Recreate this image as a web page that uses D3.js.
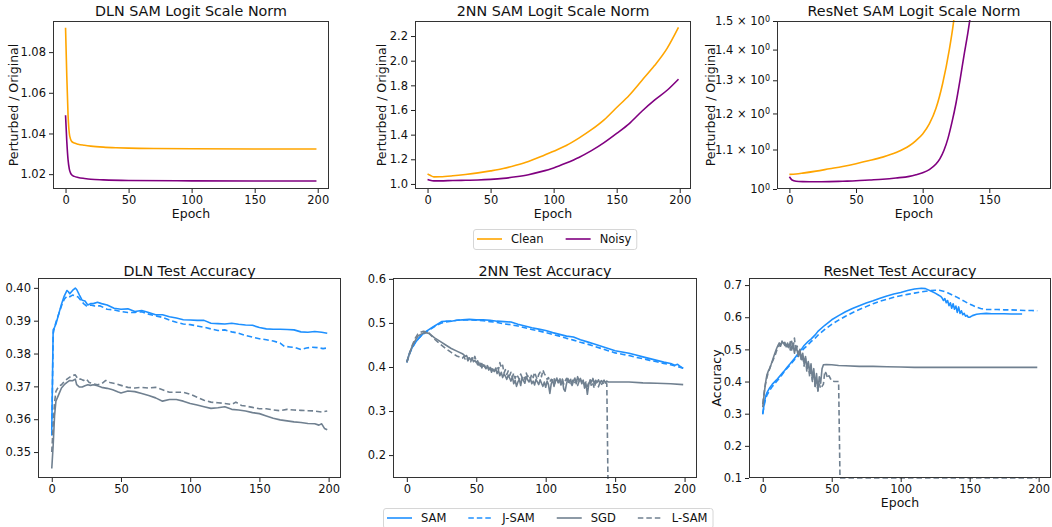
<!DOCTYPE html>
<html>
<head>
<meta charset="utf-8">
<script src="https://cdn.jsdelivr.net/npm/d3@7"></script>
<style>
  html, body { margin: 0; padding: 0; background: #fff; }
  svg { display: block; font-family: "DejaVu Sans", sans-serif; }
</style>
</head>
<body>
<svg id="chart" width="1052" height="527"></svg>
<script>
// ---- Ticks ----
const epochTicks = [0, 50, 100, 150, 200];
const epochTicksRes = [0, 50, 100, 150];
const dlnNormTicks = [1.02, 1.04, 1.06, 1.08];
const nnNormTicks = [1.0, 1.2, 1.4, 1.6, 1.8, 2.0, 2.2];
const resNormTicks = [1.0, 1.1, 1.2, 1.3, 1.4, 1.5];
const dlnAccTicks = [0.35, 0.36, 0.37, 0.38, 0.39, 0.40];
const nnAccTicks = [0.2, 0.3, 0.4, 0.5, 0.6];
const resAccTicks = [0.1, 0.2, 0.3, 0.4, 0.5, 0.6, 0.7];

// ---- Logit scale norm (perturbed / original), [epoch, value] ----
const dlnNormClean = [[0,1.092],[1,1.068],[2,1.049],[3,1.040],[4,1.0372],[5,1.0360],[7,1.0353],[10,1.0347],[15,1.0342],[20,1.0338],[30,1.0333],[40,1.0330],[50,1.0328],[70,1.0326],[100,1.0325],[150,1.0324],[199,1.0324]];
const dlnNormNoisy = [[0,1.049],[1,1.036],[2,1.027],[3,1.0225],[4,1.0205],[5,1.0196],[7,1.0189],[10,1.0184],[15,1.0179],[20,1.0175],[30,1.0172],[50,1.0169],[100,1.0167],[150,1.0166],[199,1.0166]];

const nnNormClean = [[0,1.080],[2,1.070],[5,1.057],[10,1.058],[20,1.066],[30,1.077],[40,1.090],[50,1.106],[60,1.125],[70,1.152],[80,1.183],[90,1.222],[100,1.266],[110,1.312],[120,1.372],[130,1.440],[140,1.520],[150,1.620],[160,1.720],[170,1.840],[180,1.960],[190,2.100],[199,2.270]];
const nnNormNoisy = [[0,1.037],[2,1.030],[5,1.025],[10,1.025],[20,1.028],[30,1.030],[40,1.032],[50,1.037],[60,1.045],[70,1.058],[80,1.075],[90,1.100],[100,1.130],[110,1.170],[120,1.215],[130,1.270],[140,1.335],[150,1.410],[160,1.490],[170,1.590],[180,1.680],[190,1.760],[199,1.850]];

const resNormClean = [[0,1.036],[5,1.037],[10,1.039],[20,1.044],[30,1.050],[40,1.056],[50,1.063],[60,1.071],[70,1.080],[80,1.092],[90,1.110],[95,1.124],[100,1.142],[105,1.170],[110,1.215],[115,1.290],[120,1.400],[123,1.490],[126,1.620]];
const resNormNoisy = [[0,1.030],[2,1.022],[5,1.019],[10,1.018],[20,1.0175],[30,1.018],[40,1.019],[50,1.020],[60,1.022],[70,1.024],[80,1.027],[90,1.031],[95,1.035],[100,1.040],[105,1.048],[110,1.062],[113,1.076],[116,1.098],[119,1.130],[122,1.175],[125,1.230],[128,1.300],[131,1.380],[134,1.460],[137,1.560]];

// ---- Test accuracy, [epoch, value] ----
const dlnSam = [[0,0.3567],[1,0.3872],[2,0.388],[3,0.389],[5,0.392],[7,0.395],[9,0.3975],[11,0.3992],[12,0.3988],[13,0.3982],[15,0.3992],[17,0.3999],[18,0.3995],[20,0.3978],[22,0.3962],[24,0.396],[26,0.3948],[28,0.3952],[30,0.3952],[33,0.3956],[36,0.3952],[40,0.3948],[45,0.3938],[50,0.3935],[55,0.3936],[60,0.3928],[65,0.3931],[70,0.3925],[75,0.3918],[80,0.3918],[85,0.3912],[90,0.3908],[95,0.3903],[100,0.3902],[105,0.3901],[110,0.3901],[115,0.3892],[120,0.3891],[125,0.389],[130,0.3892],[135,0.3889],[140,0.3887],[145,0.3886],[150,0.3879],[155,0.3875],[160,0.3874],[165,0.3874],[170,0.3873],[175,0.3872],[180,0.3866],[185,0.3865],[190,0.3867],[195,0.3865],[199,0.3862]];
const dlnJsam = [[0,0.355],[1,0.386],[2,0.388],[3,0.3895],[5,0.392],[7,0.3945],[9,0.3965],[11,0.3975],[13,0.3973],[15,0.3978],[17,0.3975],[19,0.3972],[21,0.3962],[23,0.3952],[25,0.3945],[28,0.3948],[31,0.3945],[35,0.3945],[40,0.3935],[45,0.3933],[50,0.3928],[55,0.3925],[60,0.3925],[65,0.3927],[70,0.392],[75,0.3915],[80,0.391],[85,0.3902],[90,0.3895],[95,0.389],[100,0.3888],[105,0.3884],[110,0.388],[115,0.3875],[120,0.387],[125,0.3872],[130,0.3866],[135,0.3862],[140,0.3855],[145,0.385],[150,0.3845],[155,0.3842],[160,0.3838],[165,0.3832],[168,0.3822],[172,0.382],[176,0.3818],[180,0.3812],[184,0.3817],[188,0.3819],[192,0.3818],[196,0.3815],[199,0.3817]];
const dlnSgd = [[0,0.345],[1,0.352],[2,0.361],[3,0.3655],[5,0.3675],[7,0.3695],[9,0.3705],[11,0.3712],[13,0.3718],[15,0.3717],[17,0.3722],[18,0.3705],[20,0.3698],[22,0.3698],[24,0.3702],[26,0.3705],[28,0.3703],[30,0.3705],[33,0.3702],[36,0.3697],[40,0.3694],[44,0.369],[48,0.3683],[50,0.368],[55,0.3686],[60,0.3684],[65,0.3678],[70,0.3672],[75,0.3665],[80,0.3655],[85,0.366],[90,0.366],[95,0.3655],[100,0.3648],[105,0.3643],[110,0.3638],[115,0.3633],[120,0.3635],[125,0.3638],[130,0.363],[135,0.3628],[140,0.3625],[145,0.362],[150,0.3617],[155,0.361],[160,0.3603],[165,0.3598],[170,0.3595],[175,0.3592],[180,0.359],[185,0.3587],[190,0.3586],[193,0.3582],[195,0.3586],[197,0.3572],[199,0.3568]];
const dlnLsam = [[0,0.350],[1,0.358],[2,0.365],[3,0.3685],[5,0.370],[7,0.3705],[9,0.3715],[11,0.3722],[13,0.3728],[15,0.3733],[17,0.3735],[19,0.3722],[21,0.3722],[23,0.3718],[25,0.3722],[27,0.3712],[30,0.3708],[33,0.3705],[36,0.3708],[39,0.3718],[42,0.3712],[46,0.3708],[50,0.3703],[55,0.3697],[60,0.3695],[65,0.3697],[70,0.3695],[75,0.3697],[80,0.369],[85,0.3682],[90,0.3682],[95,0.3682],[100,0.3676],[105,0.3667],[110,0.3658],[115,0.3652],[120,0.365],[125,0.3648],[130,0.3645],[133,0.3652],[137,0.3642],[140,0.364],[145,0.3636],[150,0.3632],[155,0.3632],[160,0.3628],[165,0.3626],[170,0.363],[175,0.3628],[180,0.3627],[185,0.3626],[190,0.3625],[195,0.3622],[199,0.3625]];

const nnSam = [[0,0.412],[2,0.432],[4,0.445],[6,0.455],[8,0.463],[10,0.47],[12,0.476],[15,0.483],[18,0.489],[20,0.493],[23,0.499],[25,0.503],[28,0.504],[32,0.504],[36,0.506],[40,0.507],[45,0.508],[50,0.507],[55,0.507],[60,0.506],[65,0.504],[70,0.503],[75,0.502],[80,0.497],[85,0.493],[90,0.489],[95,0.486],[100,0.483],[105,0.478],[110,0.474],[115,0.470],[120,0.468],[125,0.462],[130,0.457],[135,0.452],[140,0.447],[145,0.442],[150,0.437],[155,0.434],[160,0.431],[165,0.427],[170,0.423],[175,0.419],[180,0.415],[185,0.411],[190,0.408],[193,0.404],[195,0.406],[197,0.401],[199,0.397]];
const nnJsam = [[0,0.41],[2,0.43],[4,0.444],[6,0.455],[8,0.463],[10,0.470],[12,0.475],[15,0.482],[18,0.488],[20,0.492],[23,0.497],[25,0.500],[28,0.502],[32,0.504],[36,0.506],[40,0.507],[45,0.507],[50,0.506],[55,0.505],[60,0.503],[65,0.501],[70,0.498],[75,0.496],[80,0.493],[85,0.489],[90,0.485],[95,0.482],[100,0.478],[105,0.474],[110,0.470],[115,0.465],[120,0.461],[125,0.456],[130,0.452],[135,0.447],[140,0.442],[145,0.437],[150,0.432],[155,0.429],[160,0.426],[165,0.422],[170,0.419],[175,0.415],[180,0.412],[185,0.408],[190,0.405],[195,0.401],[199,0.397]];
const nnSgd = [[0,0.412],[2,0.432],[4,0.448],[6,0.46],[8,0.47],[10,0.474],[12,0.477],[14,0.478],[16,0.476],[18,0.471],[20,0.466],[24,0.458],[28,0.45],[32,0.442],[36,0.436],
  [40,0.430],[41,0.428],[42,0.424],[43,0.426],[44,0.419],[45,0.421],[46,0.416],[47,0.420],[48,0.412],[49,0.415],[50,0.410],[51,0.414],[52,0.404],[53,0.408],[54,0.398],[55,0.405],[56,0.401],[57,0.396],[58,0.402],[59,0.393],
  [60,0.399],[61,0.388],[62,0.395],[63,0.390],[64,0.397],[65,0.385],[66,0.392],[67,0.380],[68,0.388],[69,0.376],[70,0.384],[71,0.379],[72,0.372],[73,0.381],[74,0.375],[75,0.368],[76,0.378],[77,0.362],[78,0.370],[79,0.356],
  [80,0.366],[81,0.372],[82,0.358],[83,0.376],[84,0.369],[85,0.363],[86,0.378],[87,0.371],[88,0.366],[89,0.374],[90,0.362],[91,0.368],[92,0.359],[93,0.372],[94,0.366],[95,0.360],[96,0.371],[97,0.363],[98,0.356],[99,0.366],
  [100,0.354],[101,0.368],[102,0.360],[103,0.340],[104,0.362],[105,0.371],[106,0.356],[107,0.368],[108,0.375],[109,0.364],[110,0.370],[111,0.359],[112,0.372],[113,0.350],[114,0.345],[115,0.362],[116,0.374],[117,0.366],[118,0.372],[119,0.358],
  [120,0.368],[121,0.375],[122,0.362],[123,0.378],[124,0.369],[125,0.374],[126,0.365],[127,0.370],[128,0.352],[129,0.362],[130,0.338],[131,0.360],[132,0.371],[133,0.366],[134,0.374],[135,0.362],[136,0.370],[137,0.365],[138,0.371],[139,0.363],
  [140,0.369],[141,0.366],[142,0.370],[143,0.364],[144,0.368],[145,0.366],[150,0.366],[160,0.366],[170,0.364],[180,0.363],[190,0.362],[199,0.360]];
const nnLsam = [[0,0.41],[2,0.43],[4,0.45],[6,0.465],[8,0.475],[10,0.479],[12,0.481],[14,0.48],[16,0.477],[18,0.47],[20,0.463],[24,0.452],[28,0.442],[32,0.433],[36,0.425],
  [40,0.420],[41,0.424],[42,0.418],[43,0.422],[44,0.414],[45,0.419],[46,0.412],[47,0.421],[48,0.416],[49,0.424],[50,0.413],[51,0.405],[52,0.410],[53,0.402],[54,0.408],[55,0.399],[56,0.404],[57,0.396],[58,0.403],[59,0.395],
  [60,0.401],[61,0.392],[62,0.398],[63,0.390],[64,0.396],[65,0.402],[66,0.394],[67,0.410],[68,0.398],[69,0.404],[70,0.386],[71,0.394],[72,0.383],[73,0.391],[74,0.380],[75,0.388],[76,0.377],[77,0.386],[78,0.374],[79,0.383],
  [80,0.378],[81,0.372],[82,0.384],[83,0.376],[84,0.380],[85,0.372],[86,0.386],[87,0.378],[88,0.382],[89,0.374],[90,0.384],[91,0.376],[92,0.388],[93,0.379],[94,0.372],[95,0.383],[96,0.388],[97,0.378],[98,0.393],[99,0.385],
  [100,0.380],[101,0.372],[102,0.376],[103,0.366],[104,0.372],[105,0.368],[106,0.375],[107,0.362],[108,0.370],[109,0.366],[110,0.376],[111,0.364],[112,0.372],[113,0.361],[114,0.368],[115,0.374],[116,0.363],[117,0.369],[118,0.358],[119,0.366],
  [120,0.372],[121,0.365],[122,0.370],[123,0.358],[124,0.367],[125,0.373],[126,0.362],[127,0.368],[128,0.360],[129,0.366],[130,0.356],[131,0.364],[132,0.370],[133,0.355],[134,0.362],[135,0.352],[136,0.366],[137,0.360],[138,0.355],[139,0.364],
  [140,0.358],[141,0.366],[142,0.360],[143,0.365],[144,0.362],[145,0.10],[199,0.10]];

const resSam = [[0,0.298],[1,0.330],[2,0.352],[3,0.365],[5,0.380],[7,0.392],[10,0.405],[13,0.420],[15,0.430],[18,0.446],[20,0.456],[23,0.472],[25,0.483],[28,0.500],[30,0.512],[33,0.525],[35,0.532],[38,0.545],[40,0.556],[45,0.575],[50,0.592],[55,0.605],[60,0.617],[65,0.627],[70,0.636],[75,0.644],[80,0.651],[85,0.659],[90,0.666],[95,0.672],[100,0.677],[105,0.683],[110,0.688],[115,0.690],[118,0.689],[120,0.685],[123,0.679],[125,0.675],[127,0.670],[129,0.665],[130,0.660],[131,0.652],[132,0.658],[133,0.645],[134,0.652],[135,0.636],[136,0.645],[137,0.628],[138,0.642],[139,0.625],[140,0.635],[141,0.615],[142,0.632],[143,0.612],[144,0.620],[145,0.608],[146,0.612],[147,0.603],[148,0.606],[149,0.600],[150,0.600],[152,0.605],[155,0.609],[158,0.611],[162,0.612],[166,0.611],[170,0.611],[175,0.611],[180,0.610],[185,0.610],[188,0.610]];
const resJsam = [[0,0.300],[1,0.325],[2,0.345],[3,0.357],[5,0.372],[7,0.385],[10,0.400],[13,0.415],[15,0.427],[18,0.443],[20,0.453],[23,0.468],[25,0.478],[28,0.494],[30,0.503],[33,0.515],[35,0.524],[38,0.535],[40,0.544],[45,0.562],[50,0.578],[55,0.591],[60,0.603],[65,0.614],[70,0.624],[75,0.633],[80,0.642],[85,0.650],[90,0.656],[95,0.662],[100,0.667],[105,0.671],[110,0.675],[115,0.679],[120,0.682],[125,0.684],[128,0.684],[131,0.681],[134,0.676],[137,0.670],[140,0.664],[143,0.657],[146,0.650],[149,0.643],[152,0.637],[155,0.631],[158,0.627],[161,0.624],[165,0.624],[170,0.624],[175,0.623],[180,0.623],[185,0.622],[190,0.621],[195,0.621],[199,0.620]];
const resSgd = [[0,0.320],[1,0.360],[2,0.395],[3,0.420],[4,0.432],[5,0.440],[6,0.452],[7,0.465],[8,0.478],[9,0.490],[10,0.502],[11,0.512],[12,0.520],[13,0.510],[14,0.526],[15,0.518],[16,0.522],[17,0.508],[18,0.520],[19,0.505],[20,0.524],[21,0.498],[22,0.515],[23,0.488],[24,0.512],[25,0.495],[26,0.478],[27,0.498],[28,0.470],[29,0.488],[30,0.455],[31,0.478],[32,0.440],[33,0.462],[34,0.425],[35,0.455],[36,0.405],[37,0.440],[38,0.385],[39,0.425],[40,0.370],[41,0.415],[42,0.395],[43,0.440],[44,0.452],[46,0.453],[50,0.452],[55,0.450],[60,0.449],[70,0.447],[80,0.447],[90,0.446],[100,0.445],[110,0.444],[120,0.444],[140,0.444],[160,0.444],[180,0.444],[199,0.444]];
const resLsam = [[0,0.330],[1,0.365],[2,0.392],[3,0.412],[4,0.428],[5,0.440],[6,0.452],[7,0.462],[8,0.472],[9,0.482],[10,0.495],[11,0.505],[12,0.512],[13,0.518],[14,0.515],[15,0.522],[16,0.512],[17,0.520],[18,0.508],[19,0.515],[20,0.498],[21,0.525],[22,0.505],[23,0.535],[24,0.492],[25,0.510],[26,0.480],[27,0.500],[28,0.462],[29,0.485],[30,0.448],[31,0.472],[32,0.430],[33,0.462],[34,0.415],[35,0.445],[36,0.400],[37,0.430],[38,0.385],[39,0.405],[40,0.372],[41,0.392],[42,0.378],[43,0.385],[44,0.392],[45,0.432],[46,0.425],[47,0.410],[48,0.418],[50,0.402],[52,0.400],[55,0.400],[56,0.100],[199,0.100]];

// ---- Legends ----
const normLegend = ["Clean", "Noisy"];
const accLegend = ["SAM", "J-SAM", "SGD", "L-SAM"];

const colors = { Clean: "#ffa500", Noisy: "#800080", "SAM": "#1e90ff", "J-SAM": "#1e90ff", "SGD": "#708090", "L-SAM": "#708090" };
const dashes = { "J-SAM": "5.5,3", "L-SAM": "5.5,3" };

const svg = d3.select("#chart");
const tickFont = "11.5px";

function drawPanel(p) {
    const { x0, x1, y0, y1 } = p.box;

    const x = d3.scaleLinear().domain(p.xDomain).range([x0, x1]);
    const y = (p.log ? d3.scaleLog() : d3.scaleLinear()).domain(p.yDomain).range([y1, y0]);

    const clipId = "clip-" + p.id;
    svg.append("clipPath").attr("id", clipId)
        .append("rect")
        .attr("x", x0).attr("y", y0 - 1)
        .attr("width", x1 - x0).attr("height", y1 - y0 + 2);

    // courbes
    const line = d3.line()
        .x(d => x(d[0]))
        .y(d => y(d[1]))
        .curve(p.smooth ? d3.curveMonotoneX : d3.curveLinear);

    const g = svg.append("g").attr("clip-path", `url(#${clipId})`);
    p.series.forEach(s => {
        g.append("path")
            .datum(s.data)
            .attr("fill", "none")
            .attr("stroke", colors[s.name])
            .attr("stroke-width", 1.6)
            .attr("stroke-dasharray", dashes[s.name] || null)
            .attr("stroke-linejoin", "round")
            .attr("d", line);
    });

    // axe X
    const gx = svg.append("g")
        .attr("transform", `translate(0,${y1})`)
        .call(d3.axisBottom(x).tickValues(p.xTicks).tickSize(4).tickPadding(2.5).tickFormat(d3.format("d")));
    // axe Y
    const gy = svg.append("g")
        .attr("transform", `translate(${x0},0)`)
        .call(d3.axisLeft(y).tickValues(p.yTicks).tickSize(4).tickPadding(3).tickFormat(p.yFormat || (() => "")));

    [gx, gy].forEach(a => {
        a.select(".domain").remove();
        a.selectAll(".tick line").attr("stroke", "#222");
        a.selectAll(".tick text")
            .attr("fill", "#111")
            .style("font-size", tickFont)
            .style("font-family", "DejaVu Sans");
    });

    // labels log type "1.1 × 10^0"
    if (p.log) {
        gy.selectAll(".tick text").each(function(d) {
            const t = d3.select(this);
            t.text(null);
            t.append("tspan").text(d === 1 ? "10" : d3.format(".1f")(d) + " \u00d7 10");
            t.append("tspan").attr("dy", "-0.45em").style("font-size", "8px").text("0");
        });
    }

    // cadre
    svg.append("rect")
        .attr("x", x0 + 0.5).attr("y", y0 + 0.5)
        .attr("width", x1 - x0 - 1).attr("height", y1 - y0 - 1)
        .attr("fill", "none")
        .attr("stroke", "#333")
        .attr("stroke-width", 1);

    // titre
    svg.append("text")
        .attr("x", (x0 + x1) / 2).attr("y", p.titleY)
        .attr("text-anchor", "middle")
        .style("font-size", "14.3px")
        .attr("fill", "#111")
        .text(p.title);

    if (p.xLabel) {
        svg.append("text")
            .attr("x", (x0 + x1) / 2).attr("y", p.xLabelY)
            .attr("text-anchor", "middle")
            .style("font-size", "12.5px")
            .attr("fill", "#111")
            .text(p.xLabel);
    }
    if (p.yLabel) {
        svg.append("text")
            .attr("transform", `translate(${p.yLabelX},${(y0 + y1) / 2}) rotate(-90)`)
            .attr("text-anchor", "middle")
            .style("font-size", "12.5px")
            .attr("fill", "#111")
            .text(p.yLabel);
    }
}

function drawLegend(names, xStart, yTop) {
    const g = svg.append("g");
    const frame = g.append("rect");
    let cx = xStart + 4;
    const cy = yTop + 10;
    names.forEach(n => {
        g.append("line")
            .attr("x1", cx).attr("x2", cx + 25)
            .attr("y1", cy).attr("y2", cy)
            .attr("stroke", colors[n])
            .attr("stroke-width", 1.6)
            .attr("stroke-dasharray", dashes[n] || null);
        const t = g.append("text")
            .attr("x", cx + 34).attr("y", cy + 4)
            .style("font-size", tickFont)
            .attr("fill", "#111")
            .text(n);
        cx = cx + 34 + t.node().getComputedTextLength() + 22;
    });
    const w = cx - 22 + 5 - xStart;
    frame.attr("x", xStart + 0.5).attr("y", yTop + 0.5)
        .attr("width", w).attr("height", 20)
        .attr("rx", 2.5)
        .attr("fill", "white")
        .attr("stroke", "#d6d6d6");
}

const fullX = [-9.95, 208.95];

// rangée du haut
drawPanel({ id: "tl", box: { x0: 53, x1: 329, y0: 21, y1: 189 }, xDomain: fullX, yDomain: [1.0127, 1.0953],
    smooth: true, xTicks: epochTicks, yTicks: dlnNormTicks, yFormat: d3.format(".2f"),
    title: "DLN SAM Logit Scale Norm", titleY: 16, xLabel: "Epoch", xLabelY: 218,
    yLabel: "Perturbed / Original", yLabelX: 17.5,
    series: [{ name: "Clean", data: dlnNormClean }, { name: "Noisy", data: dlnNormNoisy }] });

drawPanel({ id: "tm", box: { x0: 415, x1: 691, y0: 21, y1: 189 }, xDomain: fullX, yDomain: [0.959, 2.322],
    smooth: true, xTicks: epochTicks, yTicks: nnNormTicks, yFormat: d3.format(".1f"),
    title: "2NN SAM Logit Scale Norm", titleY: 16, xLabel: "Epoch", xLabelY: 218,
    yLabel: "Perturbed / Original", yLabelX: 385.5,
    series: [{ name: "Clean", data: nnNormClean }, { name: "Noisy", data: nnNormNoisy }] });

drawPanel({ id: "tr", box: { x0: 777, x1: 1051, y0: 21, y1: 189 }, xDomain: [-9.3, 196.3], yDomain: [1.0, 1.5], log: true,
    smooth: true, xTicks: epochTicksRes, yTicks: resNormTicks, yFormat: d => d,
    title: "ResNet SAM Logit Scale Norm", titleY: 16, xLabel: "Epoch", xLabelY: 218,
    yLabel: "Perturbed / Original", yLabelX: 714.5,
    series: [{ name: "Clean", data: resNormClean }, { name: "Noisy", data: resNormNoisy }] });

// rangée du bas
drawPanel({ id: "bl", box: { x0: 38, x1: 341, y0: 278, y1: 478 }, xDomain: fullX, yDomain: [0.3421, 0.4030],
    xTicks: epochTicks, yTicks: dlnAccTicks, yFormat: d3.format(".2f"),
    title: "DLN Test Accuracy", titleY: 275.5,
    series: [{ name: "SAM", data: dlnSam }, { name: "J-SAM", data: dlnJsam }, { name: "SGD", data: dlnSgd }, { name: "L-SAM", data: dlnLsam }] });

drawPanel({ id: "bm", box: { x0: 393, x1: 697, y0: 278, y1: 478 }, xDomain: fullX, yDomain: [0.148, 0.602],
    xTicks: epochTicks, yTicks: nnAccTicks, yFormat: d3.format(".1f"),
    title: "2NN Test Accuracy", titleY: 275.5,
    series: [{ name: "SAM", data: nnSam }, { name: "J-SAM", data: nnJsam }, { name: "SGD", data: nnSgd }, { name: "L-SAM", data: nnLsam }] });

drawPanel({ id: "br", box: { x0: 749, x1: 1051, y0: 278, y1: 478 }, xDomain: fullX, yDomain: [0.1, 0.722],
    xTicks: epochTicks, yTicks: resAccTicks, yFormat: d3.format(".1f"),
    title: "ResNet Test Accuracy", titleY: 275.5, xLabel: "Epoch", xLabelY: 507,
    yLabel: "Accuracy", yLabelX: 721,
    series: [{ name: "SAM", data: resSam }, { name: "J-SAM", data: resJsam }, { name: "SGD", data: resSgd }, { name: "L-SAM", data: resLsam }] });

// légendes
drawLegend(normLegend, 473, 229);
drawLegend(accLegend, 383, 508);
</script>
</body>
</html>
